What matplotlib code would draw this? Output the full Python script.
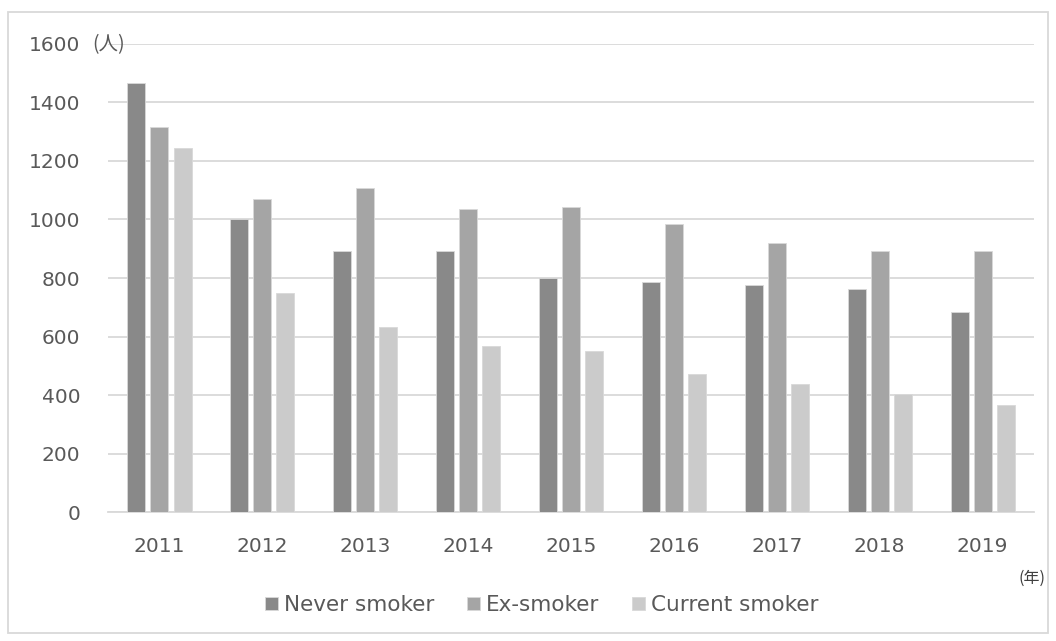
import matplotlib
matplotlib.use("Agg")
import matplotlib.pyplot as plt
import numpy as np
from matplotlib.patches import Rectangle

plt.rcParams['font.family'] = ['DejaVu Sans', 'Noto Sans CJK JP']

years = ["2011", "2012", "2013", "2014", "2015", "2016", "2017", "2018", "2019"]
never_smoker = [1467, 1003, 892, 892, 800, 786, 775, 761, 683]
ex_smoker = [1316, 1070, 1108, 1036, 1043, 985, 921, 891, 891]
current_smoker = [1244, 749, 632, 567, 550, 472, 438, 402, 365]
series_names = ["Never smoker", "Ex-smoker", "Current smoker"]
colors = ["#898989", "#a5a5a5", "#cbcbcb"]
yticks = [0, 200, 400, 600, 800, 1000, 1200, 1400, 1600]

fig = plt.figure(figsize=(10.56, 6.41), dpi=100)
ax = fig.add_axes([0.1023, 0.2012, 0.8769, 0.7302])

x = np.arange(len(years))
w = 0.175
off = 0.224
for i, (vals, name, c) in enumerate(zip([never_smoker, ex_smoker, current_smoker], series_names, colors)):
    ax.bar(x + (i - 1) * off, vals, width=w, color=c, edgecolor="#d9d9d9", linewidth=0.6, label=name, zorder=3)

ax.set_xlim(-0.5, len(years) - 0.5)
ax.set_ylim(0, 1600)
ax.set_yticks(yticks)
ax.set_yticklabels([str(v) for v in yticks])
ax.set_xticks(x)
ax.set_xticklabels(years)
ax.grid(axis="y", color="#d9d9d9", linewidth=1.3, zorder=0)
for s in ["top", "right", "left"]:
    ax.spines[s].set_visible(False)
ax.spines["bottom"].set_color("#d9d9d9")
ax.spines["bottom"].set_linewidth(1.3)
ax.tick_params(axis="both", length=0, colors="#595959", labelsize=14.5)
ax.tick_params(axis="x", pad=18)
ax.tick_params(axis="y", pad=20)

fig.text(0.087, 0.931, "(人)", ha="left", va="center", fontsize=14, color="#595959",
         family=['Noto Sans CJK JP', 'DejaVu Sans'])
fig.text(0.9775, 0.098, "(年)", ha="center", va="center", fontsize=11.5, color="#404040",
         family=['Noto Sans CJK JP', 'DejaVu Sans'])

leg = fig.legend(loc="center", bbox_to_anchor=(0.513, 0.056), ncol=3, frameon=False,
                 fontsize=15.5, handlelength=0.6, handleheight=0.6, handletextpad=0.3,
                 columnspacing=1.5)
for t in leg.get_texts():
    t.set_color("#595959")

fig.patches.append(Rectangle((8 / 1056, 8 / 641), 1040 / 1056, 621 / 641, transform=fig.transFigure,
                             fill=False, edgecolor="#d9d9d9", linewidth=1.3))

fig.savefig("out.png", dpi=100)
